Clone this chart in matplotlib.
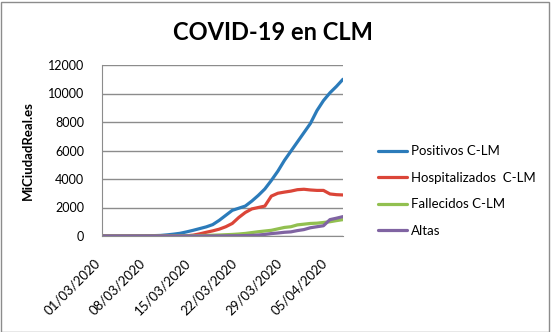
import matplotlib
matplotlib.use("Agg")
import matplotlib.pyplot as plt
import matplotlib.transforms as mtransforms
from matplotlib.patches import Rectangle

plt.rcParams['font.family'] = ['Lato', 'DejaVu Sans']

# Días desde el 01/03/2020 hasta el 07/04/2020
fechas = ["01/03/2020", "02/03/2020", "03/03/2020", "04/03/2020", "05/03/2020",
          "06/03/2020", "07/03/2020", "08/03/2020", "09/03/2020", "10/03/2020",
          "11/03/2020", "12/03/2020", "13/03/2020", "14/03/2020", "15/03/2020",
          "16/03/2020", "17/03/2020", "18/03/2020", "19/03/2020", "20/03/2020",
          "21/03/2020", "22/03/2020", "23/03/2020", "24/03/2020", "25/03/2020",
          "26/03/2020", "27/03/2020", "28/03/2020", "29/03/2020", "30/03/2020",
          "31/03/2020", "01/04/2020", "02/04/2020", "03/04/2020", "04/04/2020",
          "05/04/2020", "06/04/2020", "07/04/2020"]

positivos = [0, 0, 0, 3, 5, 8, 12, 17, 26, 40,
             80, 130, 190, 290, 400, 520, 640, 800, 1100, 1450,
             1800, 1950, 2100, 2450, 2850, 3300, 3900, 4550, 5300, 5950,
             6600, 7250, 7900, 8800, 9500, 10050, 10500, 11000]

hospitalizados = [0, 0, 0, 0, 0, 0, 0, 0, 0, 0,
                  0, 0, 0, 20, 60, 150, 260, 360, 480, 650,
                  880, 1300, 1650, 1900, 2000, 2100, 2800, 3000, 3080, 3150,
                  3250, 3280, 3230, 3200, 3200, 2950, 2900, 2880]

fallecidos = [0, 0, 0, 0, 0, 0, 0, 0, 0, 0,
              0, 5, 10, 15, 20, 30, 40, 55, 70, 90,
              110, 140, 180, 240, 300, 350, 400, 500, 600, 650,
              780, 830, 880, 900, 950, 1000, 1080, 1150]

altas = [0, 0, 0, 0, 0, 0, 0, 0, 0, 0,
         0, 0, 0, 0, 0, 0, 0, 0, 5, 10,
         15, 20, 30, 40, 70, 110, 170, 210, 260, 290,
         380, 450, 580, 650, 720, 1150, 1250, 1360]

series = [
    ("Positivos C-LM", positivos, "#2B7BBA"),
    ("Hospitalizados  C-LM", hospitalizados, "#DB4538"),
    ("Fallecidos C-LM", fallecidos, "#92C050"),
    ("Altas", altas, "#8064A2"),
]

fig = plt.figure(figsize=(5.53, 3.32), dpi=100)
ax = fig.add_axes([102 / 553, 1 - 236 / 332, (343 - 102) / 553, (236 - 65) / 332])

dias = list(range(len(fechas)))
for nombre, valores, color in series:
    ax.plot(dias, valores, color=color, lw=2.3, label=nombre, solid_capstyle='round')

ax.set_xlim(0, len(fechas) - 1)
ax.set_ylim(0, 12000)
ax.set_yticks(range(0, 12001, 2000))
ax.grid(axis='y', color='#8c8c8c', lw=1)
ax.set_axisbelow(True)

ax.set_xticks(dias[::7])
ax.set_xticklabels(fechas[::7], rotation=45, ha='right', va='top', fontsize=9.5)
desplazar = mtransforms.ScaledTranslation(5 / 100, 0, fig.dpi_scale_trans)
for lbl in ax.get_xticklabels():
    lbl.set_transform(lbl.get_transform() + desplazar)

ax.tick_params(axis='x', length=0, pad=15)
ax.tick_params(axis='y', length=0, pad=13, labelsize=9)

for lado in ['top', 'right']:
    ax.spines[lado].set_visible(False)
for lado in ['left', 'bottom']:
    ax.spines[lado].set_color('#8c8c8c')

ax.set_ylabel("MiCiudadReal.es", fontweight='bold', fontsize=9.5, labelpad=10)

fig.text(273 / 553, 1 - 33 / 332, "COVID-19 en CLM", ha='center', va='center',
         fontsize=17, fontweight='bold')

fig.legend(loc='center left', bbox_to_anchor=(366 / 553, 1 - 191 / 332), frameon=False,
           fontsize=9.5, handlelength=2.2, handletextpad=0.3, labelspacing=1.1)

fig.patches.append(Rectangle((0.5 / 553, 0.5 / 332), 548 / 553, 330 / 332, transform=fig.transFigure,
                             fill=False, edgecolor='#8c8c8c', lw=1))

fig.savefig("out.png", dpi=100)
